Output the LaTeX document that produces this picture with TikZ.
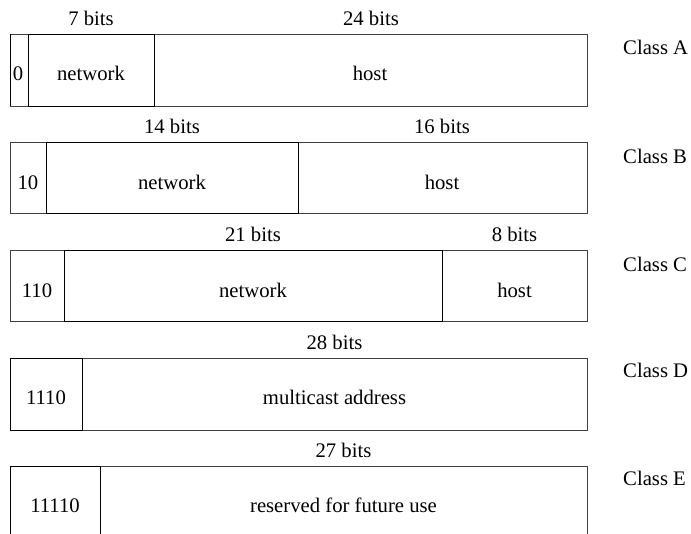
\documentclass[tikz,border=0pt]{standalone}
\usepackage{fontspec}
\setmainfont{Liberation Serif}
\begin{document}
\begin{tikzpicture}[x=1pt,y=-1pt,
  outerbox/.style={draw=black!75,line width=0.7pt},
  innerbox/.style={draw=black,line width=0.9pt},
  txt/.style={inner sep=0pt,anchor=base,font=\fontsize{20.7}{24}\selectfont},
  cls/.style={inner sep=0pt,anchor=base west,font=\fontsize{20.7}{24}\selectfont}]
\clip (0,0) rectangle (691,533);
% Class A (top 34)
\draw[outerbox] (10,34) rectangle (587,106);
\draw[innerbox] (28,34) rectangle (154,106);
\draw[innerbox] (10,34) -- (10,106);
\node[txt] (a0) at (18,80) {0};
\node[txt] (anet) at (91,80) {network};
\node[txt] (ahost) at (370,80) {host};
\node[txt] (abits1) at (91,25) {7 bits};
\node[txt] (abits2) at (371,25) {24 bits};
\node[cls] (clA) at (623,54) {Class A};
% Class B (top 142)
\draw[outerbox] (10,142) rectangle (587,213);
\draw[innerbox] (46,142) rectangle (298,213);
\node[txt] (b0) at (28,189) {10};
\node[txt] (bnet) at (172,189) {network};
\node[txt] (bhost) at (442,189) {host};
\node[txt] (bbits1) at (172,133) {14 bits};
\node[txt] (bbits2) at (442,133) {16 bits};
\node[cls] (clB) at (623,163) {Class B};
% Class C (top 250)
\draw[outerbox] (10,250) rectangle (587,321);
\draw[innerbox] (64,250) rectangle (442,321);
\node[txt] (c0) at (37,297) {110};
\node[txt] (cnet) at (253,297) {network};
\node[txt] (chost) at (514.5,297) {host};
\node[txt] (cbits1) at (253,241) {21 bits};
\node[txt] (cbits2) at (514.5,241) {8 bits};
\node[cls] (clC) at (623,271) {Class C};
% Class D (top 358)
\draw[outerbox] (10,358) rectangle (587,430);
\draw[innerbox] (10,358) rectangle (82,430);
\node[txt] (d0) at (46,404) {1110};
\node[txt] (dnet) at (334.5,404) {multicast address};
\node[txt] (dbits) at (334.5,349) {28 bits};
\node[cls] (clD) at (623,377) {Class D};
% Class E (top 466)
\draw[outerbox] (10,466) rectangle (587,538);
\draw[innerbox] (10,466) rectangle (100,538);
\node[txt] (e0) at (55,512) {11110};
\node[txt] (enet) at (343.5,512) {reserved for future use};
\node[txt] (ebits) at (343.5,457) {27 bits};
\node[cls] (clE) at (623,485) {Class E};
\end{tikzpicture}
\end{document}
